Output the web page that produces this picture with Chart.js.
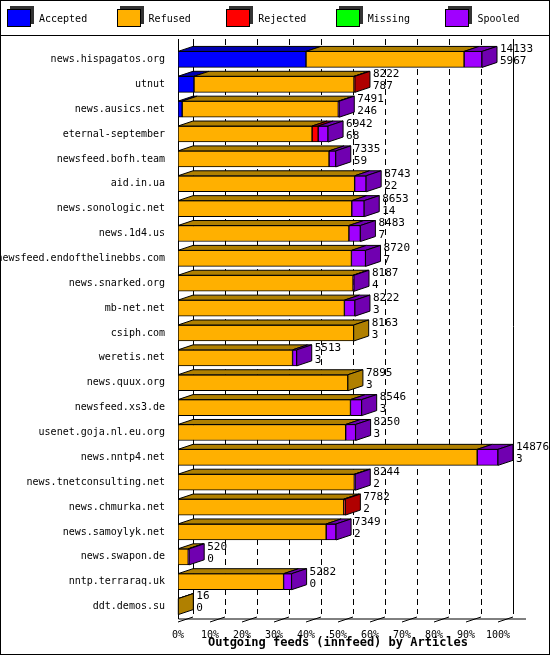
<!DOCTYPE html>
<html>
<head>
<meta charset="utf-8">
<script src="https://cdn.jsdelivr.net/npm/chart.js@4"></script>
<style>
  body { margin: 0; }
  #wrap { position: relative; width: 548px; height: 653px; border: 1px solid #000; background: #fff; }
  #legend { position: absolute; left: 0; top: 0; width: 548px; height: 34px; border-bottom: 1px solid #000;
            display: flex; font: 10px "DejaVu Sans Mono", monospace; }
  #legend div { flex: 1; display: flex; align-items: center; padding-left: 6px; }
  #legend span.sw { width: 22px; height: 16px; border: 1px solid #000; margin-right: 8px; box-shadow: 3px -3px 0 #333; }
  canvas { position: absolute; left: 0; top: 0; }
</style>
</head>
<body>
<div id="wrap">
  <canvas id="myChart" width="548" height="653"></canvas>
  <div id="legend"></div>
</div>
<script>
const hosts = ["news.hispagatos.org", "utnut", "news.ausics.net", "eternal-september", "newsfeed.bofh.team",
  "aid.in.ua", "news.sonologic.net", "news.1d4.us", "newsfeed.endofthelinebbs.com", "news.snarked.org",
  "mb-net.net", "csiph.com", "weretis.net", "news.quux.org", "newsfeed.xs3.de", "usenet.goja.nl.eu.org",
  "news.nntp4.net", "news.tnetconsulting.net", "news.chmurka.net", "news.samoylyk.net", "news.swapon.de",
  "nntp.terraraq.uk", "ddt.demos.su"];
const totals = [14133, 8222, 7491, 6942, 7335, 8743, 8653, 8483, 8720, 8187, 8222, 8163, 5513, 7895, 8546,
  8250, 14876, 8244, 7782, 7349, 520, 5282, 16];
const seconds = [5967, 787, 246, 68, 59, 22, 14, 7, 7, 4, 3, 3, 3, 3, 3, 3, 3, 2, 2, 2, 0, 0, 0];
// bar lengths in % of the largest feed
const accepted = [40, 5, 1.3, 0, 0, 0, 0, 0, 0, 0, 0, 0, 0, 0, 0, 0, 0, 0, 0, 0, 0, 0, 0];
const refused = [49.4, 50, 48.8, 41.9, 47.2, 55.2, 54.3, 53.4, 54.2, 54.7, 52, 54.9, 35.8, 53.1, 53.9,
  52.4, 93.5, 55.1, 51.8, 46.3, 3.2, 33, 0.1];
const rejected = [0, 0.3, 0, 1.9, 0, 0, 0, 0, 0, 0, 0, 0, 0, 0, 0, 0, 0, 0, 0.5, 0, 0, 0, 0];
const missing = [0, 0, 0, 0, 0, 0, 0, 0, 0, 0, 0, 0, 0, 0, 0, 0, 0, 0, 0, 0, 0, 0, 0];
const spooled = [5.6, 0, 0.3, 3.1, 2.1, 3.6, 3.9, 3.6, 4.4, 0.3, 3.3, 0, 1.3, 0, 3.5, 3.1, 6.5, 0.3, 0, 3.1, 0.3, 2.5, 0];
const xTicks = [0, 10, 20, 30, 40, 50, 60, 70, 80, 90, 100];

const names = ["Accepted", "Refused", "Rejected", "Missing", "Spooled"];
const fronts = ["#0000ff", "#ffb000", "#ff0000", "#00ff00", "#a000ff"];
const darks = ["#0000b0", "#b08000", "#b00000", "#00b000", "#7000b0"];
const DX = 15, DY = 5;

document.getElementById("legend").innerHTML = names.map((n, i) =>
  `<div><span class="sw" style="background:${fronts[i]}"></span>${n}</div>`).join("");

const font = "DejaVu Sans Mono";

function poly(ctx, pts, fill) {
  ctx.beginPath();
  ctx.moveTo(pts[0][0], pts[0][1]);
  for (let i = 1; i < pts.length; i++) ctx.lineTo(pts[i][0], pts[i][1]);
  ctx.closePath();
  ctx.fillStyle = fill;
  ctx.fill();
  ctx.stroke();
}

const backWall = {
  id: "backWall",
  beforeDatasetsDraw(chart) {
    const ctx = chart.ctx, a = chart.chartArea, x = chart.scales.x;
    ctx.save();
    ctx.strokeStyle = "#000";
    ctx.lineWidth = 1;
    xTicks.forEach(v => {
      const px = Math.round(x.getPixelForValue(v) + DX) + 0.5;
      ctx.setLineDash(v === 0 || v === 100 ? [] : [6, 4]);
      ctx.beginPath();
      ctx.moveTo(px, a.top - 8);
      ctx.lineTo(px, a.bottom - DY);
      ctx.stroke();
      ctx.setLineDash([]);
      const bx = x.getPixelForValue(v);
      ctx.beginPath();
      ctx.moveTo(bx, a.bottom + 3);
      ctx.lineTo(bx + DX, a.bottom - DY + 3);
      ctx.stroke();
    });
    ctx.beginPath();
    ctx.moveTo(a.left + 0.5, a.top - 8);
    ctx.lineTo(a.left + 0.5, a.bottom);
    ctx.lineTo(a.right + 28, a.bottom);
    ctx.stroke();
    ctx.restore();
  },
  afterDatasetsDraw(chart) {
    const ctx = chart.ctx;
    ctx.save();
    ctx.strokeStyle = "#000";
    ctx.lineWidth = 1;
    hosts.forEach((h, row) => {
      let last = null;
      chart.data.datasets.forEach((ds, di) => {
        const el = chart.getDatasetMeta(di).data[row];
        if (!el || ds.data[row] <= 0) return;
        const x0 = el.base, x1 = el.x, top = el.y - el.height / 2;
        poly(ctx, [[x0, top], [x0 + DX, top - DY], [x1 + DX, top - DY], [x1, top]], darks[di]);
        last = { el, di };
      });
      if (last) {
        const el = last.el, top = el.y - el.height / 2, bot = el.y + el.height / 2;
        poly(ctx, [[el.x, top], [el.x + DX, top - DY], [el.x + DX, bot - DY], [el.x, bot]], darks[last.di]);
        ctx.fillStyle = "#000";
        ctx.font = "11px " + font;
        ctx.textAlign = "left";
        ctx.textBaseline = "middle";
        ctx.fillText(String(totals[row]), el.x + DX + 3, el.y - 10);
        ctx.fillText(String(seconds[row]), el.x + DX + 3, el.y + 2);
      }
    });
    ctx.restore();
  }
};

const series = [accepted, refused, rejected, missing, spooled];
new Chart(document.getElementById("myChart"), {
  type: "bar",
  data: {
    labels: hosts,
    datasets: series.map((d, i) => ({
      label: names[i],
      data: d,
      backgroundColor: fronts[i],
      borderColor: "#000",
      borderWidth: 1,
      borderSkipped: false,
      barThickness: 16
    }))
  },
  options: {
    indexAxis: "y",
    responsive: false,
    animation: false,
    layout: { padding: { top: 46, right: 51, left: 0, bottom: 0 } },
    plugins: { legend: { display: false }, tooltip: { enabled: false } },
    scales: {
      x: {
        stacked: true, min: 0, max: 100,
        grid: { display: false }, border: { display: false },
        ticks: { stepSize: 10, callback: v => v + "%", color: "#000", font: { family: font, size: 10 }, maxRotation: 0, padding: 2 },
        title: { display: true, text: "Outgoing feeds (innfeed) by Articles", color: "#000",
                 font: { family: font, size: 12, weight: "bold" }, padding: { top: 0 } },
        afterFit: s => { s.height = 35; }
      },
      y: {
        stacked: true,
        grid: { display: false }, border: { display: false },
        ticks: { color: "#000", font: { family: font, size: 10 }, padding: 5 },
        afterFit: s => { s.width = 177; }
      }
    }
  },
  plugins: [backWall]
});
</script>
</body>
</html>
